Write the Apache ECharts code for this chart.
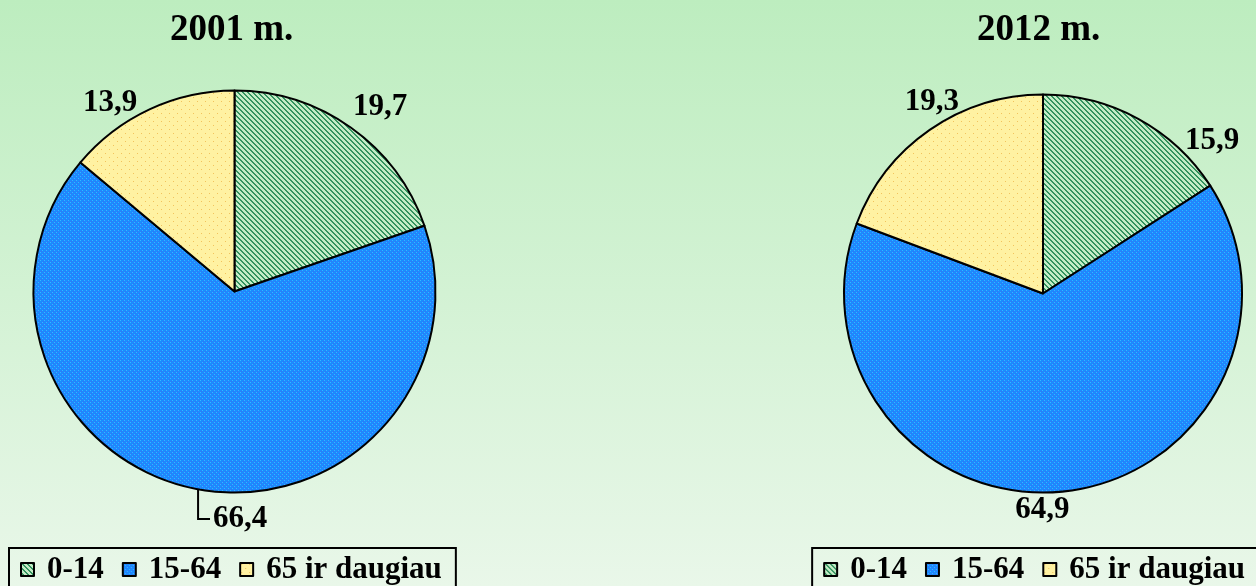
<!DOCTYPE html>
<html>
<head>
<meta charset="utf-8">
<script src="https://cdn.jsdelivr.net/npm/echarts@6/dist/echarts.min.js"></script>
<style>
html,body{margin:0;padding:0;}
#chart{width:1256px;height:586px;}
</style>
</head>
<body>
<div id="chart"></div>
<script>
// ---- data ----
const categories = ['0-14', '15-64', '65 ir daugiau'];
const titles = ['2001 m.', '2012 m.'];
const values2001 = [19.7, 66.4, 13.9];
const values2012 = [15.9, 64.9, 19.3];

// ---- label nudges (style only) ----
const labelNudge = [
  [[-10, -13], [77, 20], [-2, 3]],
  [[36, 31], [-56, 9], [41, -20]]
];

// ---- patterns ----
function makeTile(w, h, base, draw) {
  const c = document.createElement('canvas');
  c.width = w; c.height = h;
  const g = c.getContext('2d');
  g.fillStyle = base; g.fillRect(0, 0, w, h);
  draw(g);
  return c;
}
const greenTile = makeTile(5, 5, '#c4ecc6', g => {
  g.fillStyle = '#33935f';
  for (let y = 0; y < 5; y++) for (let x = 0; x < 5; x++) {
    if ((((x - y) % 5) + 5) % 5 < 2) g.fillRect(x, y, 1, 1);
  }
});
const blueTile = makeTile(4, 4, '#1a8cff', g => {
  g.fillStyle = '#38b4ff';
  g.fillRect(0, 0, 1, 1); g.fillRect(2, 2, 1, 1);
  g.fillStyle = '#3f6ef2';
  g.fillRect(1, 3, 1, 1); g.fillRect(3, 1, 1, 1);
});
const yellowTile = makeTile(8, 8, '#fff2a2', g => {
  g.fillStyle = '#f2c35c';
  g.fillRect(1, 1, 1, 1); g.fillRect(5, 5, 1, 1);
});
const colors = [
  { image: greenTile, repeat: 'repeat' },
  { image: blueTile, repeat: 'repeat' },
  { image: yellowTile, repeat: 'repeat' }
];

const serif = '"Liberation Serif", "Times New Roman", serif';

function seriesData(vals, si) {
  return categories.map((name, i) => {
    const d = { name: name, value: vals[i], itemStyle: { color: colors[i] } };
    if (si === 0 && i === 1) d.labelLine = { show: true };
    return d;
  });
}

function pieSeries(vals, si, center, radius) {
  return {
    type: 'pie',
    center: center,
    radius: radius,
    startAngle: 90,
    clockwise: true,
    animation: false,
    silent: true,
    data: seriesData(vals, si),
    itemStyle: { borderColor: '#000', borderWidth: 2 },
    label: {
      show: true,
      position: 'outside',
      formatter: p => String(p.value).replace('.', ','),
      fontFamily: serif,
      fontWeight: 'bold',
      fontSize: 31,
      color: '#000',
      distanceToLabelLine: 2
    },
    labelLine: { show: false, length: 10, length2: 4, smooth: false,
      lineStyle: { color: '#000', width: 2 } },
    labelLayout: p => {
      const n = labelNudge[si][p.dataIndex];
      const out = { dx: n[0], dy: n[1] };
      if (si === 0 && p.dataIndex === 1 && p.labelLinePoints) {
        const a = p.labelLinePoints[0];
        const r = p.labelRect;
        const ly = r.y + n[1] + r.height / 2;
        const lx = r.x + n[0] - 3;
        out.labelLinePoints = [[a[0], a[1]], [a[0], ly], [lx, ly]];
      }
      return out;
    }
  };
}

const legendCommon = {
  orient: 'horizontal',
  top: 548,
  icon: 'rect',
  itemWidth: 13,
  itemHeight: 13,
  itemGap: 18,
  borderColor: '#000',
  borderWidth: 2,
  padding: [6, 14, 8, 11],
  selectedMode: false,
  itemStyle: { borderColor: '#000', borderWidth: 2 },
  textStyle: {
    fontFamily: serif,
    fontWeight: 'bold',
    fontSize: 31,
    color: '#000',
    padding: [0, 0, 0, 8]
  },
  data: categories
};

const chart = echarts.init(document.getElementById('chart'), null, { renderer: 'canvas' });
chart.setOption({
  backgroundColor: {
    type: 'linear', x: 0, y: 0, x2: 0, y2: 1,
    colorStops: [
      { offset: 0, color: '#bdedbf' },
      { offset: 1, color: '#e9f7e9' }
    ]
  },
  title: [
    { text: titles[0], left: 170, top: 12, padding: 0,
      textStyle: { fontFamily: serif, fontWeight: 'bold', fontSize: 37, color: '#000' } },
    { text: titles[1], left: 977, top: 12, padding: 0,
      textStyle: { fontFamily: serif, fontWeight: 'bold', fontSize: 37, color: '#000' } }
  ],
  legend: [
    Object.assign({}, legendCommon, { left: 9 }),
    Object.assign({}, legendCommon, { right: -12, padding: [6, 23, 8, 11] })
  ],
  series: [
    pieSeries(values2001, 0, [234.5, 291.5], 201),
    pieSeries(values2012, 1, [1043, 293.5], 199)
  ]
});
</script>
</body>
</html>
